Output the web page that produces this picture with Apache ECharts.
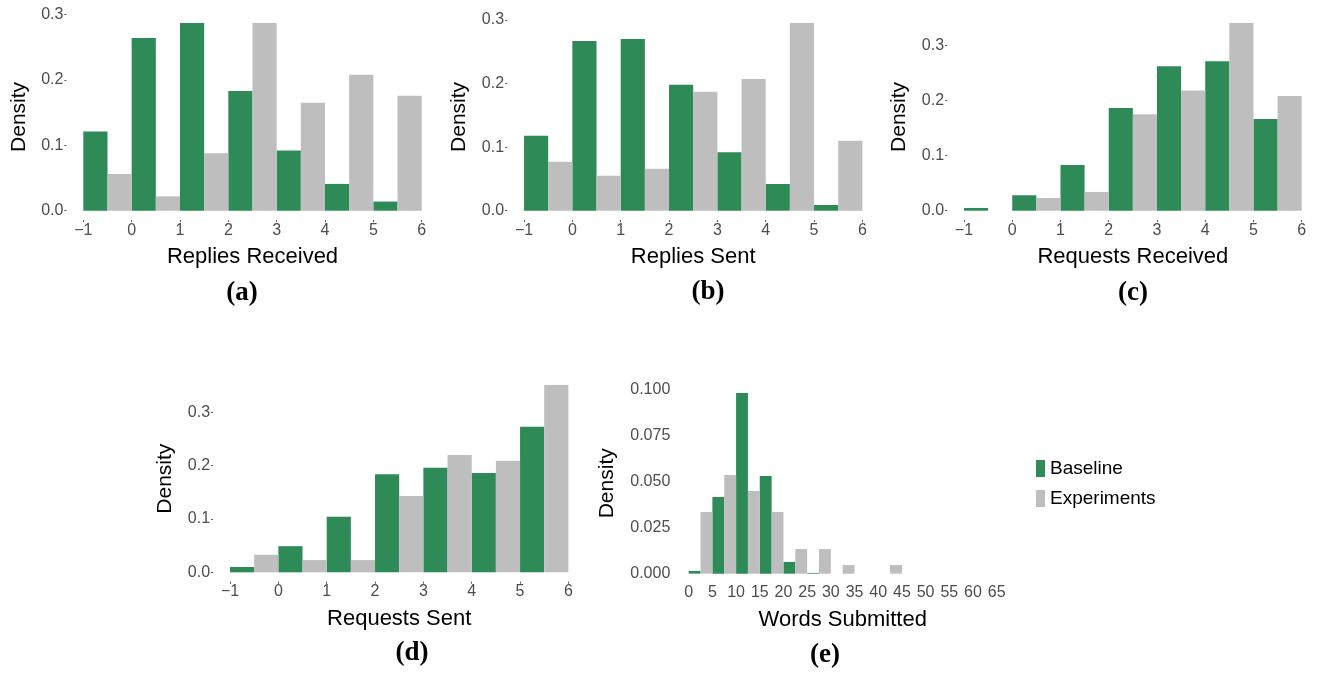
<!DOCTYPE html>
<html>
<head>
<meta charset="utf-8">
<script src="https://cdn.jsdelivr.net/npm/echarts@6/dist/echarts.min.js"></script>
<style>
  html, body { margin: 0; padding: 0; background: #ffffff; }
  #chart { width: 1319px; height: 674px; }
</style>
</head>
<body>
<div id="chart"></div>
<script>
// ---------- data ----------
const countBins = [-1, 0, 1, 2, 3, 4, 5];        // bin starts, width 1
const countBinWidth = 1;
const countTicks = [-1, 0, 1, 2, 3, 4, 5, 6];
const densityTicks = [0, 0.1, 0.2, 0.3];

const repliesReceivedBaseline    = [0.121, 0.264, 0.287, 0.183, 0.092, 0.041, 0.014];
const repliesReceivedExperiments = [0.056, 0.022, 0.088, 0.287, 0.165, 0.208, 0.176];

const repliesSentBaseline    = [0.118, 0.267, 0.270, 0.198, 0.092, 0.042, 0.009];
const repliesSentExperiments = [0.077, 0.055, 0.066, 0.187, 0.207, 0.295, 0.110];

const requestsReceivedBaseline    = [0.005, 0.028, 0.083, 0.186, 0.262, 0.271, 0.166];
const requestsReceivedExperiments = [0.000, 0.023, 0.034, 0.175, 0.218, 0.340, 0.208];

const requestsSentBaseline    = [0.010, 0.049, 0.104, 0.184, 0.196, 0.186, 0.273];
const requestsSentExperiments = [0.033, 0.023, 0.023, 0.143, 0.220, 0.209, 0.351];

const wordBins = [0, 5, 10, 15, 20, 25, 30, 35, 40, 45, 50, 55, 60]; // width 5
const wordBinWidth = 5;
const wordTicks = [0, 5, 10, 15, 20, 25, 30, 35, 40, 45, 50, 55, 60, 65];
const wordDensityTicks = [0, 0.025, 0.05, 0.075, 0.1];
const wordsBaseline    = [0.0015, 0.0417, 0.0984, 0.0532, 0.0064, 0.0004, 0, 0, 0, 0, 0, 0, 0];
const wordsExperiments = [0.0336, 0.0537, 0.0450, 0.0336, 0.0134, 0.0134, 0.0047, 0, 0.0047, 0, 0, 0, 0];

const seriesNames = ['Baseline', 'Experiments'];
const panelTitles = ['Replies Received', 'Replies Sent', 'Requests Received', 'Requests Sent', 'Words Submitted'];
const panelTags = ['(a)', '(b)', '(c)', '(d)', '(e)'];

// ---------- styling / layout ----------
const GREEN = '#2E8B57';
const GREY = '#BEBEBE';
const SANS = '"Liberation Sans", Arial, Helvetica, sans-serif';
const SERIF = '"Liberation Serif", "Times New Roman", serif';

const panels = [
  { bins: countBins, bw: countBinWidth, base: repliesReceivedBaseline, exp: repliesReceivedExperiments,
    xt: countTicks, yt: densityTicks, yDec: 1, grid: { left: 66.4, top: 13.7, width: 372.2, height: 206.4 },
    yGap: 37, ticks: true, tag: [242, 293] },
  { bins: countBins, bw: countBinWidth, base: repliesSentBaseline, exp: repliesSentExperiments,
    xt: countTicks, yt: densityTicks, yDec: 1, grid: { left: 507.1, top: 13.7, width: 372.2, height: 206.4 },
    yGap: 37, ticks: true, tag: [708, 292] },
  { bins: countBins, bw: countBinWidth, base: requestsReceivedBaseline, exp: requestsReceivedExperiments,
    xt: countTicks, yt: densityTicks, yDec: 1, grid: { left: 947.1, top: 13.7, width: 371.5, height: 206.4 },
    yGap: 37, ticks: true, tag: [1133, 293] },
  { bins: countBins, bw: countBinWidth, base: requestsSentBaseline, exp: requestsSentExperiments,
    xt: countTicks, yt: densityTicks, yDec: 1, grid: { left: 213.1, top: 375.7, width: 372.2, height: 206 },
    yGap: 37, ticks: true, tag: [412, 653] },
  { bins: wordBins, bw: wordBinWidth, base: wordsBaseline, exp: wordsExperiments,
    xt: wordTicks, yt: wordDensityTicks, yDec: 3, grid: { left: 673.3, top: 383.9, width: 338.8, height: 198.8 },
    yGap: 56, ticks: false, tag: [825, 655] }
];

function renderBar(params, api) {
  const p0 = api.coord([api.value(0), 0]);
  const p1 = api.coord([api.value(1), api.value(2)]);
  return {
    type: 'rect',
    shape: { x: p0[0], y: p1[1], width: p1[0] - p0[0], height: p0[1] - p1[1] },
    style: api.style()
  };
}

function fmtTick(v) {
  const r = Math.round(v);
  return r < 0 ? '\u2212' + Math.abs(r) : String(r);
}

const grids = [], xAxes = [], yAxes = [], series = [], graphics = [];

panels.forEach((p, i) => {
  grids.push(p.grid);
  const xMinD = p.bins[0];
  const xMaxD = p.bins[p.bins.length - 1] + p.bw;
  const xPad = 0.05 * (xMaxD - xMinD);
  const yMaxD = Math.max(...p.base, ...p.exp);
  const tickStyle = { show: p.ticks, length: 2, lineStyle: { color: '#555', width: 1 } };

  xAxes.push({
    gridIndex: i, type: 'value', min: xMinD - xPad, max: xMaxD + xPad,
    axisLine: { show: false, onZero: false },
    axisTick: Object.assign({ customValues: p.xt }, tickStyle),
    splitLine: { show: false },
    axisLabel: { customValues: p.xt, formatter: fmtTick, color: '#4D4D4D', fontSize: 16, fontFamily: SANS, margin: 2 },
    name: panelTitles[i], nameLocation: 'middle', nameGap: 26,
    nameTextStyle: { color: '#000', fontSize: 22, fontFamily: SANS }
  });
  yAxes.push({
    gridIndex: i, type: 'value', min: -0.05 * yMaxD, max: 1.05 * yMaxD,
    axisLine: { show: false, onZero: false },
    axisTick: Object.assign({ customValues: p.yt }, tickStyle),
    splitLine: { show: false },
    axisLabel: { customValues: p.yt, formatter: v => v.toFixed(p.yDec), color: '#4D4D4D', fontSize: 16, fontFamily: SANS, margin: 3 },
    name: 'Density', nameLocation: 'middle', nameGap: p.yGap,
    nameTextStyle: { color: '#000', fontSize: 21, fontFamily: SANS }
  });

  const half = p.bw / 2;
  series.push({
    name: seriesNames[0], type: 'custom', xAxisIndex: i, yAxisIndex: i,
    renderItem: renderBar, encode: { x: [0, 1], y: 2 },
    itemStyle: { color: GREEN },
    data: p.bins.map((b, k) => [b, b + half, p.base[k]])
  });
  series.push({
    name: seriesNames[1], type: 'custom', xAxisIndex: i, yAxisIndex: i,
    renderItem: renderBar, encode: { x: [0, 1], y: 2 },
    itemStyle: { color: GREY },
    data: p.bins.map((b, k) => [b + half, b + p.bw, p.exp[k]])
  });

  graphics.push({
    type: 'text', x: p.tag[0], y: p.tag[1],
    style: { text: panelTags[i], font: 'bold 27px ' + SERIF, fill: '#000', textAlign: 'center', textVerticalAlign: 'middle' }
  });
});

const chart = echarts.init(document.getElementById('chart'), null, { renderer: 'canvas' });
chart.setOption({
  animation: false,
  backgroundColor: '#ffffff',
  grid: grids,
  xAxis: xAxes,
  yAxis: yAxes,
  series: series,
  legend: {
    data: seriesNames.map(n => ({ name: n, icon: 'rect' })),
    orient: 'vertical', left: 1036, top: 459, padding: 0,
    itemWidth: 9, itemHeight: 17, itemGap: 11,
    textStyle: { color: '#000', fontSize: 19, fontFamily: SANS },
    selectedMode: false
  },
  graphic: graphics
});
</script>
</body>
</html>
